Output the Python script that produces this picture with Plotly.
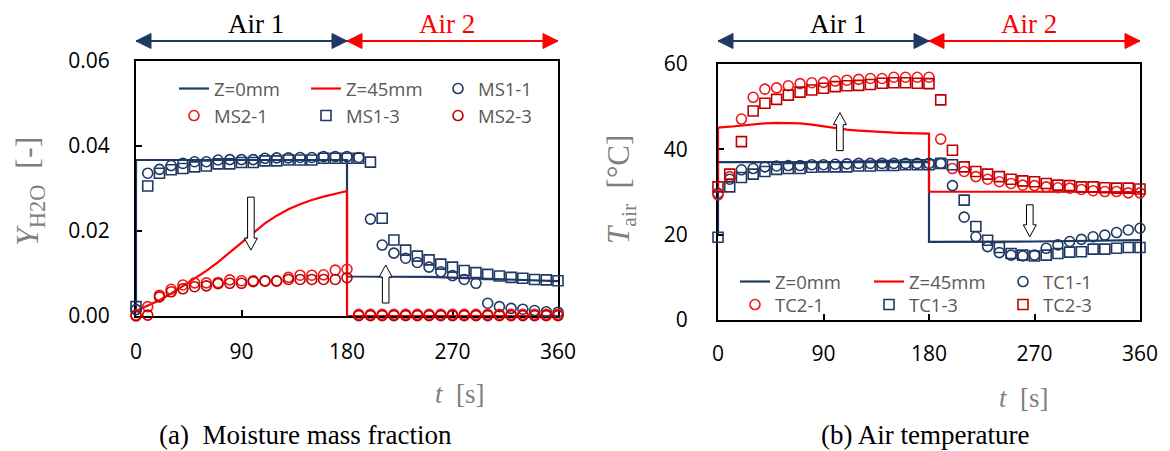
import plotly.graph_objects as go

# ---------------- data ----------------
t_s = list(range(0, 361, 10))

# (a) moisture mass fraction, measured
ms1_1 = [0.0015, 0.0336, 0.0345, 0.0354, 0.0359, 0.0363, 0.0363, 0.0367, 0.0368, 0.0368,
         0.0368, 0.0371, 0.0372, 0.0372, 0.0373, 0.0373, 0.0375, 0.0375, 0.0375, 0.0373,
         0.0228, 0.0167, 0.0148, 0.0136, 0.0126, 0.0115, 0.0104, 0.0095, 0.0086, 0.0077,
         0.0030, 0.0022, 0.0018, 0.0016, 0.0013, 0.0010, 0.0009]
ms1_3 = [0.0022, 0.0306, 0.0336, 0.0344, 0.0347, 0.0351, 0.0353, 0.0358, 0.0358, 0.0361,
         0.0361, 0.0365, 0.0365, 0.0367, 0.0367, 0.0367, 0.0371, 0.0371, 0.0371, 0.0371,
         0.0362, 0.0230, 0.0179, 0.0155, 0.0141, 0.0132, 0.0122, 0.0115, 0.0107, 0.0102,
         0.0098, 0.0094, 0.0091, 0.0089, 0.0086, 0.0085, 0.0083]
ms2_1 = [0.0002, 0.0022, 0.0049, 0.0063, 0.0073, 0.0078, 0.0078, 0.0079, 0.0085, 0.0083,
         0.0083, 0.0083, 0.0083, 0.0091, 0.0096, 0.0096, 0.0097, 0.0108, 0.0110, 0.0004,
         0.0004, 0.0004, 0.0004, 0.0004, 0.0004, 0.0004, 0.0004, 0.0004, 0.0004, 0.0004,
         0.0004, 0.0004, 0.0004, 0.0004, 0.0004, 0.0004, 0.0004]
ms2_3 = [0.0000, 0.0002, 0.0045, 0.0057, 0.0064, 0.0069, 0.0071, 0.0076, 0.0077, 0.0077,
         0.0081, 0.0082, 0.0082, 0.0086, 0.0086, 0.0086, 0.0086, 0.0086, 0.0090, 0.0001,
         0.0001, 0.0001, 0.0001, 0.0001, 0.0001, 0.0001, 0.0001, 0.0001, 0.0001, 0.0001,
         0.0001, 0.0001, 0.0001, 0.0001, 0.0001, 0.0001, 0.0001]

# (a) simulated
y_z0_t = [0, 0, 180, 180, 250, 360]
y_z0 = [0.0015, 0.0367, 0.0367, 0.0093, 0.0092, 0.0082]
y_z45_t = [0, 10, 20, 30, 40, 50, 60, 70, 80, 90, 100, 110, 120, 130, 140, 150, 160, 170,
           180, 180, 360]
y_z45 = [0.0012, 0.0024, 0.0037, 0.0053, 0.0070, 0.0088, 0.0106, 0.0127, 0.0150, 0.0172,
         0.0196, 0.0218, 0.0236, 0.0251, 0.0263, 0.0273, 0.0281, 0.0288, 0.0294, 0.0, 0.0]

# (b) air temperature, measured
tc1_1 = [29.7, 33.0, 35.2, 35.5, 35.9, 36.1, 36.2, 36.2, 36.4, 36.4,
         36.5, 36.6, 36.7, 36.7, 36.7, 36.7, 36.7, 36.7, 36.7, 36.7,
         31.5, 24.1, 19.5, 17.2, 15.8, 15.2, 15.0, 15.2, 16.8, 17.6,
         18.4, 18.9, 19.5, 19.9, 20.5, 21.1, 21.5]
tc1_3 = [19.4, 31.2, 33.4, 34.2, 34.8, 35.3, 35.5, 35.5, 35.8, 35.9,
         35.9, 35.9, 36.1, 36.1, 36.2, 36.2, 36.4, 36.4, 36.4, 36.7,
         36.4, 28.1, 21.9, 18.7, 17.0, 15.6, 15.2, 15.0, 15.2, 15.6,
         15.9, 16.0, 16.6, 16.6, 16.8, 17.0, 17.0]
tc2_1 = [29.3, 33.6, 47.1, 52.2, 54.1, 54.4, 54.9, 55.4, 55.6, 55.7,
         56.0, 56.2, 56.4, 56.6, 56.6, 56.9, 56.9, 56.9, 56.9, 42.4,
         35.5, 34.8, 33.6, 33.0, 32.4, 32.0, 31.6, 31.5, 31.2, 31.0,
         30.9, 30.6, 30.3, 30.1, 30.1, 29.8, 29.8]
tc2_3 = [31.2, 34.2, 41.8, 49.0, 50.8, 51.7, 52.7, 53.4, 53.9, 54.3,
         54.7, 54.9, 55.0, 55.2, 55.5, 55.6, 55.6, 55.5, 55.4, 51.6,
         39.8, 35.9, 34.8, 34.2, 33.6, 33.0, 32.6, 32.4, 32.0, 31.6,
         31.5, 31.2, 31.2, 31.0, 30.9, 30.9, 30.7]

# (b) simulated
T_z0_t = [0, 0, 180, 180, 270, 360]
T_z0 = [20.0, 37.0, 37.0, 18.3, 18.4, 18.7]
T_z45_t = [0, 0, 10, 20, 30, 40, 50, 60, 70, 80, 90, 100, 110, 120, 130, 140, 150, 160,
           170, 180, 180, 360]
T_z45 = [30.0, 45.1, 45.3, 45.6, 45.9, 46.1, 46.2, 46.2, 46.1, 45.8, 45.4, 45.0, 44.6,
         44.4, 44.2, 44.1, 43.9, 43.8, 43.8, 43.7, 30.1, 30.0]

# phases of the supplied air
phase_edges = [0, 180, 360]
phase_names = ["Air 1", "Air 2"]
x_ticks = [0, 90, 180, 270, 360]
ya_ticks = [0.0, 0.02, 0.04, 0.06]
yb_ticks = [0, 20, 40, 60]

# ---------------- styling ----------------
W, H = 1170, 451
NAVY = "#203864"
RED = "#FF0000"
RED_L = "#F01818"
RED_D = "#C00000"
GRAY_T = "#7F7F7F"
LEG_C = "#595959"
TICK_FONT = dict(family="Open Sans", size=21, color="black")
SERIF = "Liberation Serif"


def px(x):
    return x / W


def py(y):
    return (H - y) / H


fig = go.Figure()


def line_tr(x, y, name, color, xa, ya, legend):
    fig.add_trace(go.Scatter(x=x, y=y, mode="lines", name=name,
                             line=dict(color=color, width=2.2),
                             xaxis=xa, yaxis=ya, legend=legend, cliponaxis=False))


def mark_tr(x, y, name, color, symbol, xa, ya, legend):
    fig.add_trace(go.Scatter(x=x, y=y, mode="markers", name=name,
                             marker=dict(symbol=symbol, size=10, color=color,
                                         line=dict(width=1.6, color=color)),
                             xaxis=xa, yaxis=ya, legend=legend, cliponaxis=False))


# (a)
line_tr(y_z0_t, y_z0, "Z=0mm", NAVY, "x", "y", "legend")
line_tr(y_z45_t, y_z45, "Z=45mm", RED, "x", "y", "legend")
mark_tr(t_s, ms1_1, "MS1-1", NAVY, "circle-open", "x", "y", "legend")
mark_tr(t_s, ms2_1, "MS2-1", RED_L, "circle-open", "x", "y", "legend2")
mark_tr(t_s, ms1_3, "MS1-3", NAVY, "square-open", "x", "y", "legend2")
mark_tr(t_s, ms2_3, "MS2-3", RED_D, "circle-open", "x", "y", "legend2")

# (b)
line_tr(T_z0_t, T_z0, "Z=0mm", NAVY, "x2", "y2", "legend3")
line_tr(T_z45_t, T_z45, "Z=45mm", RED, "x2", "y2", "legend3")
mark_tr(t_s, tc1_1, "TC1-1", NAVY, "circle-open", "x2", "y2", "legend3")
mark_tr(t_s, tc2_1, "TC2-1", RED_L, "circle-open", "x2", "y2", "legend4")
mark_tr(t_s, tc1_3, "TC1-3", NAVY, "square-open", "x2", "y2", "legend4")
mark_tr(t_s, tc2_3, "TC2-3", RED_D, "square-open", "x2", "y2", "legend4")

axis_common = dict(showline=True, linecolor="black", linewidth=2.2, mirror=True,
                   showgrid=False, zeroline=False, ticks="inside", ticklen=6,
                   tickwidth=2, tickcolor="black", tickfont=TICK_FONT,
                   layer="below traces", automargin=False)

xa_dom = [px(136), px(558)]
xb_dom = [px(718), px(1140)]
ya_dom = [py(316), py(61)]
yb_dom = [py(320), py(64)]

fig.update_layout(
    template="none",
    width=W, height=H, margin=dict(l=0, r=0, t=0, b=0, pad=0, autoexpand=False),
    paper_bgcolor="white", plot_bgcolor="white",
    xaxis=dict(domain=xa_dom, range=[0, 360], tickvals=x_ticks, anchor="y",
               ticklabelstandoff=16, **axis_common),
    yaxis=dict(domain=ya_dom, range=[0, 0.06], tickvals=ya_ticks, tickformat=".2f",
               anchor="x", ticklabelstandoff=20, **axis_common),
    xaxis2=dict(domain=xb_dom, range=[0, 360], tickvals=x_ticks, anchor="y2",
                ticklabelstandoff=14, **axis_common),
    yaxis2=dict(domain=yb_dom, range=[0, 60], tickvals=yb_ticks, anchor="x2",
                ticklabelstandoff=24, **axis_common),
)

leg_common = dict(orientation="h", xanchor="left", yanchor="middle",
                  bgcolor="rgba(0,0,0,0)", borderwidth=0, itemwidth=30,
                  entrywidthmode="pixels", traceorder="normal",
                  font=dict(family="Open Sans", size=18.5, color=LEG_C))
fig.update_layout(
    legend=dict(x=px(174), y=py(89), entrywidth=87, **leg_common),
    legend2=dict(x=px(174), y=py(116), entrywidth=87, **leg_common),
    legend3=dict(x=px(735), y=py(282), entrywidth=89, **leg_common),
    legend4=dict(x=px(735), y=py(305), entrywidth=89, **leg_common),
)

shapes = []
annotations = []

# phase arrows above each panel
ARROW_Y = py(41)
for xa in ["x", "x2"]:
    for i, name in enumerate(phase_names):
        c = NAVY if i == 0 else RED
        t0, t1 = phase_edges[i], phase_edges[i + 1]
        shapes.append(dict(type="line", xref=xa, yref="paper", x0=t0, x1=t1,
                           y0=ARROW_Y, y1=ARROW_Y, line=dict(color=c, width=2)))
        shapes.append(dict(type="path", xref=xa, yref="paper", xsizemode="pixel",
                           ysizemode="pixel", xanchor=t0, yanchor=ARROW_Y,
                           path="M0,0 L15,7.5 L15,-7.5 Z", fillcolor=c,
                           line=dict(color=c, width=1)))
        shapes.append(dict(type="path", xref=xa, yref="paper", xsizemode="pixel",
                           ysizemode="pixel", xanchor=t1, yanchor=ARROW_Y,
                           path="M0,0 L-15,7.5 L-15,-7.5 Z", fillcolor=c,
                           line=dict(color=c, width=1)))
        annotations.append(dict(xref=xa, yref="paper", x=102 if i == 0 else 265,
                                y=py(24), text=name, showarrow=False,
                                font=dict(family=SERIF, size=27,
                                          color="black" if i == 0 else RED),
                                xanchor="center", yanchor="middle"))


def block_arrow(xa, ya, t, v, length, down):
    s = 1 if down else -1
    path = (f"M0,0 L-6.5,{12*s} L-3.3,{12*s} L-3.3,{length*s} "
            f"L3.3,{length*s} L3.3,{12*s} L6.5,{12*s} Z")
    shapes.append(dict(type="path", xref=xa, yref=ya, xsizemode="pixel",
                       ysizemode="pixel", xanchor=t, yanchor=v, path=path,
                       fillcolor="white", line=dict(color="black", width=1)))


block_arrow("x", "y", 98, 0.0155, 53, True)
block_arrow("x", "y", 213, 0.0120, 38, False)
block_arrow("x2", "y2", 104, 48.6, 38, False)
block_arrow("x2", "y2", 266, 19.5, 32, True)

# axis titles and panel captions
CENTER = dict(xanchor="center", yanchor="middle", showarrow=False,
              xref="paper", yref="paper")
annotations += [
    dict(x=px(29), y=py(192), text="<i>Y</i><sub>H2O</sub>  [-]", textangle=-90,
         font=dict(family=SERIF, size=32, color=GRAY_T), **CENTER),
    dict(x=px(621), y=py(190), text="<i>T</i><sub>air</sub>  [°C]", textangle=-90,
         font=dict(family=SERIF, size=31, color=GRAY_T), **CENTER),
    dict(x=px(460), y=py(394), text="<i>t</i>  [s]",
         font=dict(family=SERIF, size=27, color=GRAY_T), **CENTER),
    dict(x=px(1024), y=py(398), text="<i>t</i>  [s]",
         font=dict(family=SERIF, size=27, color=GRAY_T), **CENTER),
    dict(x=px(305), y=py(435), text="(a)  Moisture mass fraction",
         font=dict(family=SERIF, size=27, color="black"), **CENTER),
    dict(x=px(925), y=py(435), text="(b) Air temperature",
         font=dict(family=SERIF, size=27, color="black"), **CENTER),
]

fig.update_layout(shapes=shapes, annotations=annotations)
fig.write_html("out.html")
